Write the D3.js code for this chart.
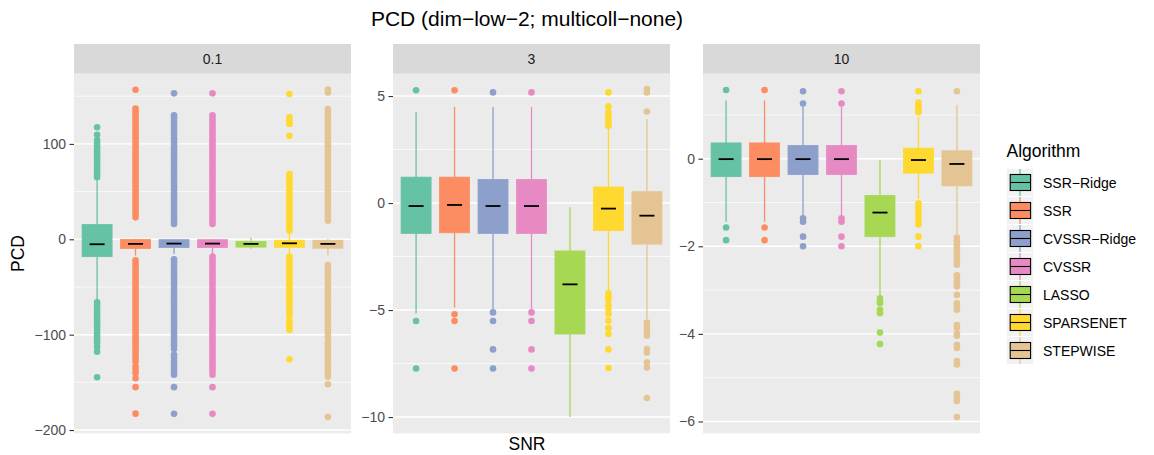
<!DOCTYPE html>
<html><head><meta charset="utf-8">
<script src="https://cdn.jsdelivr.net/npm/d3@7"></script>
<style>
body{margin:0;background:#fff;}
text{font-family:"Liberation Sans",Arial,Helvetica,sans-serif;}
</style>
</head><body><svg id="c" width="1154" height="455"></svg>
<script>
const algorithms = ["SSR−Ridge","SSR","CVSSR−Ridge","CVSSR","LASSO","SPARSENET","STEPWISE"];
const colors = ["#66C2A5","#FC8D62","#8DA0CB","#E78AC3","#A6D854","#FFD92F","#E5C494"];
const snrLevels = ["0.1","3","10"];
const yTicks01 = [-200,-100,0,100];
const yTicks3 = [-10,-5,0,5];
const yTicks10 = [-6,-4,-2,0];

// [lower whisker, Q1, median, Q3, upper whisker]
const stats01 = [
  [-65.4,-18.2,-5.2,15.5,65],
  [-17.2,-9.6,-4.8,-0.2,0.5],
  [-15.4,-8.6,-4.5,-0.4,0.3],
  [-15.4,-8.6,-4.5,-0.4,0.3],
  [-10,-8.2,-4.8,-2.2,1.5],
  [-15.4,-8.4,-4.2,-1,5.5],
  [-17.2,-9.4,-4.8,-1,0.3]
];
const stats3 = [
  [-5.16,-1.42,-0.14,1.21,4.25],
  [-4.88,-1.39,-0.09,1.21,4.49],
  [-4.95,-1.42,-0.14,1.1,4.49],
  [-4.95,-1.42,-0.14,1.1,4.49],
  [-10.0,-6.12,-3.8,-2.24,-0.2],
  [-4.1,-1.29,-0.26,0.75,3.54],
  [-5.42,-1.92,-0.59,0.53,3.93]
];
const stats10 = [
  [-1.44,-0.41,-0.01,0.36,1.33],
  [-1.44,-0.41,-0.01,0.36,1.33],
  [-1.29,-0.36,-0.01,0.3,1.19],
  [-1.29,-0.36,-0.01,0.3,1.19],
  [-3.11,-1.78,-1.23,-0.84,-0.03],
  [-0.92,-0.33,-0.03,0.24,0.95],
  [-1.72,-0.62,-0.12,0.18,1.23]
];

const outliers01 = [
  [65,68,71,74,77,80,83,86,89,92,95,98,101,104,109.6,117.4,
   -66,-69,-72,-75,-78,-81,-84,-87,-90,-93,-96,-99,-102,-105,-108,-112.6,-117.8,-144.7],
  [23,26,29,32,35,38,41,44,47,50,53,56,59,62,65,68,71,74,77,80,83,86,89,92,95,98,101,104,107,110,113,116,119,122,125,128,131,134,137,156.8,
   -22,-25,-28,-31,-34,-37,-40,-43,-46,-49,-52,-55,-58,-61,-64,-67,-70,-73,-76,-79,-82,-85,-88,-91,-94,-97,-100,-103,-106,-109,-112,-115,-118,-121,-124.8,-128,-133.5,-137,-140.5,-145.7,-155,-182.8],
  [16,19,22,25,28,31,34,37,40,43,46,49,52,55,58,61,64,67,70,73,76,79,82,85,88,91,94,97,100,103,106,109,112,115,118,121,124,127,130,153,
   -21,-24,-27,-30,-33,-36,-39,-42,-45,-48,-51,-54,-57,-60,-63,-66,-69,-72,-75,-78,-81,-84,-87,-90,-93,-96,-99,-102,-105,-108,-111,-115,-121,-124,-128,-132,-135,-138,-142,-155,-183],
  [16,19,22,25,28,31,34,37,40,43,46,49,52,55,58,61,64,67,70,73,76,79,82,85,88,91,94,97,100,103,106,109,112,115,118,121,124,127,130,153,
   -18,-21,-24,-27,-30,-33,-36,-39,-42,-45,-48,-51,-54,-57,-60,-63,-66,-69,-72,-75,-78,-81,-84,-87,-90,-93,-96,-99,-102,-105,-108,-111,-114,-117,-120,-123,-126,-129,-132,-135,-138,-142,-155,-183],
  [],
  [9,12,15,18,21,24,27,30,33,36,39,42,45,48,51,54,57,60,63,66,68.4,108.6,121,124.5,128,152.3,
   -18,-21,-24,-27,-30,-33,-36,-39,-42,-45,-48,-51,-54,-57,-60,-63,-66,-69,-72,-75,-78,-81,-86,-89,-92,-95,-125.8],
  [19.5,22.5,25.5,28.5,31.5,34.5,37.5,40.5,43.5,46.5,49.5,52.5,55.5,58.5,61.5,64.5,67.5,70.5,73.5,76.5,79.5,82.5,85.5,88.5,91.5,94.5,97.5,100.5,103.5,106.5,109.5,112.5,115.5,118.5,121.5,124.5,127.5,130.5,133.5,136.6,154,157,
   -27,-30,-33,-36,-39,-42,-45,-48,-51,-54,-57,-60,-63,-66,-69,-72,-75,-78,-81,-84,-87,-90,-93,-96,-99,-102,-104,-109,-112,-115,-118,-121,-124,-127,-130,-133,-136,-139,-142,-144,-152,-186.3]
];
const outliers3 = [
  [5.27,-5.51,-7.73],
  [5.27,-5.2,-5.51,-7.73],
  [5.17,-5.11,-5.51,-6.84,-7.73],
  [5.17,-5.11,-5.51,-6.84,-7.73],
  [],
  [5.17,4.52,4.24,4.1,3.93,3.8,3.7,3.61,-4.22,-4.4,-4.56,-4.8,-4.95,-5.19,-5.5,-5.84,-6.12,-6.84,-7.71],
  [5.33,5.17,4.28,-5.58,-5.75,-5.89,-6.05,-6.2,-6.82,-6.98,-7.44,-7.68,-9.11]
];
const outliers10 = [
  [1.57,-1.57,-1.86],
  [1.57,-1.57,-1.86],
  [1.54,1.26,-1.36,-1.44,-1.78,-2.0],
  [1.54,1.26,-1.36,-1.44,-1.78,-2.0],
  [-3.19,-3.25,-3.3,-3.45,-3.53,-3.97,-4.23],
  [1.54,1.28,1.22,1.16,1.1,1.06,-1.02,-1.1,-1.18,-1.25,-1.33,-1.42,-1.5,-1.78,-2.0],
  [1.54,-1.8,-1.88,-1.96,-2.04,-2.12,-2.2,-2.28,-2.36,-2.42,-2.66,-2.72,-2.8,-2.87,-2.92,-3.11,-3.3,-3.38,-3.45,-3.8,-3.86,-3.99,-4.04,-4.25,-4.32,-4.62,-4.7,-5.37,-5.45,-5.53,-5.9]
];

const svg = d3.select("#c");
const panelTop = 74, panelBottom = 433.3, stripTop = 44;
const panels = [
  {snr:snrLevels[0], x0:74, x1:351, domain:[-203.4,173.3], ticks:yTicks01, stats:stats01, out:outliers01},
  {snr:snrLevels[1], x0:393, x1:670, domain:[-10.76,6.03], ticks:yTicks3, stats:stats3, out:outliers3},
  {snr:snrLevels[2], x0:703, x1:980, domain:[-6.27,1.934], ticks:yTicks10, stats:stats10, out:outliers10}
];

panels.forEach(p => {
  const g = svg.append("g");
  const x = d3.scaleBand().domain(algorithms).range([p.x0, p.x1]).paddingInner(0).paddingOuter(0.1);
  const y = d3.scaleLinear().domain(p.domain).range([panelBottom, panelTop]);
  // strip
  g.append("rect").attr("x", p.x0).attr("y", stripTop).attr("width", p.x1 - p.x0).attr("height", panelTop - stripTop - 0.3).attr("fill", "#D9D9D9");
  g.append("text").attr("x", (p.x0 + p.x1) / 2).attr("y", 64).attr("text-anchor", "middle")
    .attr("font-size", 14).attr("fill", "#1A1A1A").text(p.snr);
  // panel bg
  g.append("rect").attr("x", p.x0).attr("y", panelTop).attr("width", p.x1 - p.x0).attr("height", panelBottom - panelTop).attr("fill", "#EBEBEB");
  // minor grid
  const step = p.ticks[1] - p.ticks[0];
  const minor = [];
  for (let i = -1; i < p.ticks.length; i++) {
    const m = p.ticks[0] + step * i + step / 2;
    if (m > p.domain[0] && m < p.domain[1]) minor.push(m);
  }
  g.selectAll(".mn").data(minor).enter().append("line")
    .attr("x1", p.x0).attr("x2", p.x1).attr("y1", d => y(d)).attr("y2", d => y(d))
    .attr("stroke", "#fff").attr("stroke-width", 0.7);
  g.selectAll(".mj").data(p.ticks).enter().append("line")
    .attr("x1", p.x0).attr("x2", p.x1).attr("y1", d => y(d)).attr("y2", d => y(d))
    .attr("stroke", "#fff").attr("stroke-width", 1.4);
  // axis
  const ax = g.append("g").attr("transform", `translate(${p.x0},0)`)
    .call(d3.axisLeft(y).tickValues(p.ticks).tickSize(4.5).tickPadding(3.5)
      .tickFormat(d => d3.format("d")(d).replace("-", "−")));
  ax.select(".domain").remove();
  ax.selectAll(".tick line").attr("stroke", "#333333").attr("stroke-width", 1.1);
  ax.selectAll(".tick text").attr("fill", "#4D4D4D").attr("font-size", 14)
    .attr("font-family", "'Liberation Sans',Arial,sans-serif");

  const bw = x.bandwidth() * 0.78;
  algorithms.forEach((a, i) => {
    const cx = x(a) + x.bandwidth() / 2;
    const s = p.stats[i];
    const col = colors[i];
    // outliers
    g.selectAll(null).data(p.out[i]).enter().append("circle")
      .attr("cx", cx).attr("cy", d => y(d)).attr("r", 3.3).attr("fill", col);
    // whiskers
    g.append("line").attr("x1", cx).attr("x2", cx).attr("y1", y(s[3])).attr("y2", y(s[4]))
      .attr("stroke", col).attr("stroke-width", 1.3);
    g.append("line").attr("x1", cx).attr("x2", cx).attr("y1", y(s[1])).attr("y2", y(s[0]))
      .attr("stroke", col).attr("stroke-width", 1.3);
    // box
    g.append("rect").attr("x", cx - bw / 2).attr("y", y(s[3])).attr("width", bw)
      .attr("height", Math.max(0.5, y(s[1]) - y(s[3])))
      .attr("fill", col).attr("stroke", col).attr("stroke-width", 0.8);
    // median
    g.append("line").attr("x1", cx - bw / 4).attr("x2", cx + bw / 4).attr("y1", y(s[2])).attr("y2", y(s[2]))
      .attr("stroke", "#000").attr("stroke-width", 1.8);
  });
});

// titles
svg.append("text").attr("x", 527).attr("y", 26).attr("text-anchor", "middle")
  .attr("font-size", 21).attr("fill", "#000").text("PCD (dim−low−2; multicoll−none)");
svg.append("text").attr("x", 527).attr("y", 449.5).attr("text-anchor", "middle")
  .attr("font-size", 17.5).attr("fill", "#000").text("SNR");
svg.append("text").attr("transform", "translate(23.5,253.5) rotate(-90)").attr("text-anchor", "middle")
  .attr("font-size", 17.5).attr("fill", "#000").text("PCD");

// legend
const lg = svg.append("g");
lg.append("text").attr("x", 1006.5).attr("y", 156.5).attr("font-size", 17.5).attr("fill", "#000").text("Algorithm");
algorithms.forEach((a, i) => {
  const cy = 182.5 + i * 28;
  const kx = 1006.7, kw = 26.6;
  lg.append("rect").attr("x", kx).attr("y", cy - 13.5).attr("width", kw).attr("height", 27).attr("fill", "#F2F2F2");
  const kcx = kx + kw / 2;
  lg.append("line").attr("x1", kcx).attr("x2", kcx).attr("y1", cy - 13.5).attr("y2", cy + 13.5)
    .attr("stroke", colors[i]).attr("stroke-width", 1.3);
  lg.append("rect").attr("x", 1010.2).attr("y", cy - 8).attr("width", 20.4).attr("height", 16)
    .attr("fill", colors[i]).attr("stroke", "#000").attr("stroke-width", 1.1);
  lg.append("line").attr("x1", 1010.2).attr("x2", 1030.6).attr("y1", cy).attr("y2", cy)
    .attr("stroke", "#000").attr("stroke-width", 1.1);
  lg.append("text").attr("x", 1043).attr("y", cy + 5).attr("font-size", 14).attr("fill", "#000").text(a);
});
</script>
</body></html>
